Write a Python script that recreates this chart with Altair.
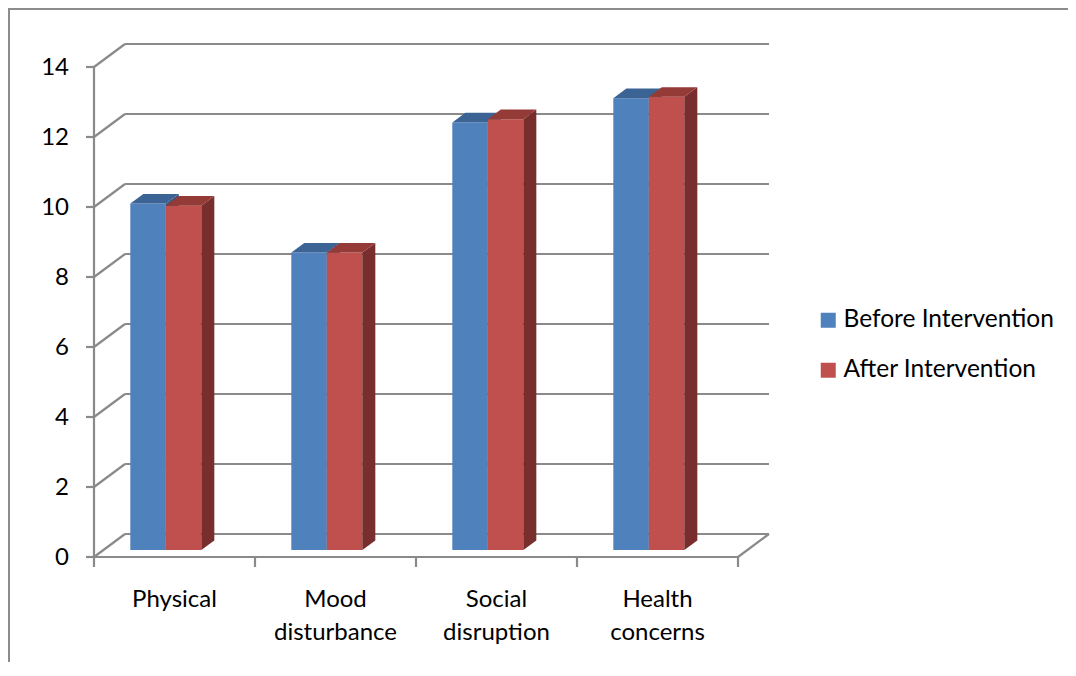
import altair as alt
import pandas as pd

# ---------------- data ----------------
categories = ["Physical", "Mood\ndisturbance", "Social\ndisruption", "Health\nconcerns"]
series = ["Before Intervention", "After Intervention"]
before = [9.9, 8.5, 12.22, 12.91]
after = [9.84, 8.5, 12.31, 12.95]
y_ticks = [0, 2, 4, 6, 8, 10, 12, 14]

# ---------------- 3D geometry (axis units) ----------------
Y_MAX = 14
N = len(categories)
DX = 0.1925      # depth of the box along x (category units)
DY = 0.657       # depth of the box along y (value units)
BAR_LEFT = 0.2255
BAR_W = 0.2205
BAR_Z0 = 0.3     # depth fraction of bar front face
BAR_DEPTH = 0.42 # depth fraction of bar thickness

GRID = "#8A8A8A"
FRONT = {"Before Intervention": "#4F81BD", "After Intervention": "#C0504D"}
TOP = {"Before Intervention": "#3B6495", "After Intervention": "#943A37"}
SIDE = {"Before Intervention": "#34597F", "After Intervention": "#772E2C"}
FONT = "Lato"

W, H = 675, 513
PAD = {"left": 86, "top": 36, "right": 299, "bottom": 105}
PX_X = W / (N + DX)        # pixels per category unit
PX_Y = H / (Y_MAX + DY)    # pixels per value unit
TICK_Y_LEN = 8 / PX_X      # y-axis tick length in x units
TICK_X_LEN = 10 / PX_Y     # x-axis tick length in y units

x_scale = alt.Scale(domain=[0, N + DX], nice=False, zero=False)
y_scale = alt.Scale(domain=[0, Y_MAX + DY], nice=False, zero=False)
color_scale = alt.Scale(domain=series, range=[FRONT[s] for s in series])

# ---------------- tables ----------------
values = {series[0]: before, series[1]: after}
front_rows, top_rows, side_rows = [], [], []
for i, cat in enumerate(categories):
    for k, s in enumerate(series):
        v = values[s][i]
        x0 = i + BAR_LEFT + k * BAR_W
        x1 = x0 + BAR_W
        y0 = BAR_Z0 * DY
        y1 = v + BAR_Z0 * DY
        bid = f"{i}-{k}"
        front_rows.append(dict(series=s, cat=cat, x0=x0, x1=x1, y0=y0, y1=y1))
        ddx, ddy = BAR_DEPTH * DX, BAR_DEPTH * DY
        top_rows.append(dict(series=s, bar=bid, ty=y1, tx0=x0, tx1=x1))
        top_rows.append(dict(series=s, bar=bid, ty=y1 + ddy, tx0=x0 + ddx, tx1=x1 + ddx))
        side_rows.append(dict(series=s, bar=bid, sx=x1, sy0=y0, sy1=y1))
        side_rows.append(dict(series=s, bar=bid, sx=x1 + ddx, sy0=y0 + ddy, sy1=y1 + ddy))
front_df = pd.DataFrame(front_rows)
top_df = pd.DataFrame(top_rows)
side_df = pd.DataFrame(side_rows)

grid_rows = []
for t in y_ticks:
    grid_rows.append(dict(x=DX, x2=N + DX, y=t + DY, y2=t + DY))   # back wall
    grid_rows.append(dict(x=0, x2=DX, y=t, y2=t + DY))              # side wall diagonals
    grid_rows.append(dict(x=-TICK_Y_LEN, x2=0, y=t, y2=t))          # y-axis ticks
for i in range(N + 1):
    grid_rows.append(dict(x=i, x2=i, y=0, y2=-TICK_X_LEN))          # category ticks
grid_rows.append(dict(x=0, x2=N, y=0, y2=0))                        # floor front edge
grid_rows.append(dict(x=N, x2=N + DX, y=0, y2=DY))                  # floor right edge
grid_rows.append(dict(x=0, x2=0, y=0, y2=Y_MAX))                    # front value axis
grid_df = pd.DataFrame(grid_rows)

label_df = pd.DataFrame({"cat": categories, "xc": [i + 0.5 for i in range(N)], "yc": [0] * N})
ytick_df = pd.DataFrame({"v": y_ticks, "x": [0] * len(y_ticks), "lab": [str(t) for t in y_ticks]})

# ---------------- layers ----------------
grid = alt.Chart(grid_df).mark_rule(color=GRID, strokeWidth=2.2).encode(
    x=alt.X("x:Q", scale=x_scale, axis=None), x2="x2:Q",
    y=alt.Y("y:Q", scale=y_scale, axis=None), y2="y2:Q",
)

layers = [grid]
for k, s in enumerate(series):
    f = alt.Chart(front_df[front_df.series == s]).mark_rect().encode(
        x=alt.X("x0:Q", scale=x_scale, axis=None), x2="x1:Q",
        y=alt.Y("y0:Q", scale=y_scale, axis=None), y2="y1:Q",
        color=alt.Color("series:N", scale=color_scale, sort=series,
                        legend=alt.Legend(title=None) if k == 0 else None),
    )
    sd = alt.Chart(side_df[side_df.series == s]).mark_area(color=SIDE[s], orient="vertical").encode(
        x=alt.X("sx:Q", scale=x_scale, axis=None),
        y=alt.Y("sy0:Q", scale=y_scale, axis=None), y2="sy1:Q",
        detail="bar:N",
    )
    tp = alt.Chart(top_df[top_df.series == s]).mark_area(color=TOP[s], orient="horizontal").encode(
        y=alt.Y("ty:Q", scale=y_scale, axis=None),
        x=alt.X("tx0:Q", scale=x_scale, axis=None), x2="tx1:Q",
        detail="bar:N",
    )
    layers += [f, sd, tp]

labels = alt.Chart(label_df).mark_text(
    font=FONT, fontSize=24, color="black", align="center", baseline="alphabetic",
    dy=50, lineBreak="\n", lineHeight=33,
).encode(
    x=alt.X("xc:Q", scale=x_scale, axis=None),
    y=alt.Y("yc:Q", scale=y_scale, axis=None),
    text="cat:N",
)
ylabels = alt.Chart(ytick_df).mark_text(
    font=FONT, fontSize=24, color="black", align="right", baseline="middle", dx=-25, dy=1,
).encode(
    x=alt.X("x:Q", scale=x_scale, axis=None),
    y=alt.Y("v:Q", scale=y_scale, axis=None),
    text="lab:N",
)
layers += [labels, ylabels]

border_top = alt.Chart(pd.DataFrame({"k": [0]})).mark_rule(color="#8C8C8C", strokeWidth=2).encode(
    x=alt.value(-PAD["left"]), x2=alt.value(W + PAD["right"]), y=alt.value(-PAD["top"] + 1))
border_left = alt.Chart(pd.DataFrame({"k": [0]})).mark_rule(color="#8C8C8C", strokeWidth=2).encode(
    x=alt.value(-PAD["left"] + 1), y=alt.value(-PAD["top"]), y2=alt.value(H + PAD["bottom"]))
layers += [border_top, border_left]

chart = alt.layer(*layers).properties(
    width=W, height=H, padding=PAD,
    autosize=alt.AutoSizeParams(type="none"),
    background="white",
).configure_view(stroke=None).configure_legend(
    orient="none", legendX=722, legendY=264, symbolType="square", symbolSize=225,
    symbolStrokeWidth=0, labelFont=FONT, labelFontSize=24.5, labelColor="black",
    labelOffset=3, rowPadding=25, padding=0, labelLimit=0,
)

chart.save("out.html", embed_options={"renderer": "svg", "actions": False})
